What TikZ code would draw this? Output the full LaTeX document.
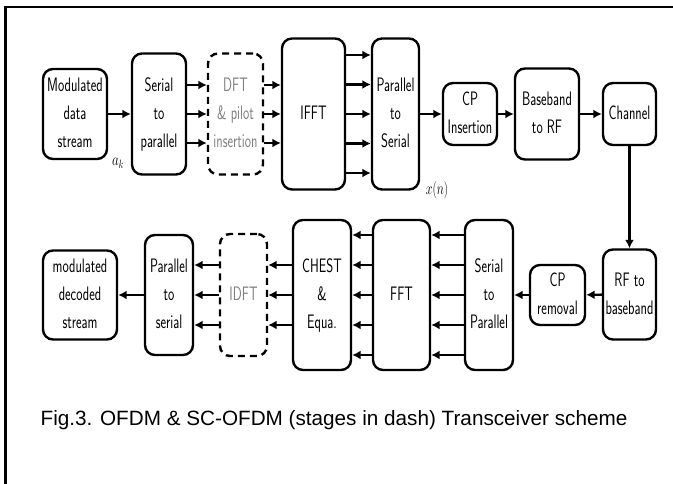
\documentclass[tikz,border=0pt]{standalone}
\usepackage{graphicx}
\usepackage{fontspec}
\newfontfamily\capfont{Liberation Sans}
\usetikzlibrary{arrows.meta}
\newcommand{\bt}[1]{\scalebox{0.68}[1]{\begin{tabular}{@{}c@{}}#1\end{tabular}}}
\tikzset{
  blk/.style={draw, line width=2.4pt, rounded corners=10pt, inner sep=0pt,
    font=\sffamily\fontsize{19.5}{28}\selectfont},
  dblk/.style={blk, dashed, dash pattern=on 7pt off 5pt, text=black!50},
  arr/.style={line width=2.4pt, -{Latex[length=8.5pt,width=9pt]}},
  lbl/.style={inner sep=0pt, font=\fontsize{17}{20}\selectfont},
}
\begin{document}
\begin{tikzpicture}[x=1pt,y=-1pt]
\useasboundingbox (0,0) rectangle (673,484);
\draw[line width=2.4pt] (673,7) -- (5.5,7) -- (5.5,484);
% top row
\node[blk, minimum width=64pt, minimum height=90pt] (mod) at (75,114) {\bt{Modulated\\data\\stream}};
\node[blk, minimum width=54pt, minimum height=121pt] (s2p) at (159,114) {\bt{Serial\\to\\parallel}};
\node[dblk, minimum width=55pt, minimum height=121pt] (dft) at (235.5,114) {\bt{DFT\\\& pilot\\insertion}};
\node[blk, minimum width=63pt, minimum height=151pt] (ifft) at (313.5,114) {\bt{IFFT}};
\node[blk, minimum width=47pt, minimum height=151pt] (p2s) at (395.5,114) {\bt{Parallel\\to\\Serial}};
\node[blk, minimum width=54pt, minimum height=62pt] (cpi) at (470,114) {\bt{CP\\Insertion}};
\node[blk, minimum width=64pt, minimum height=91pt] (bb) at (547,114) {\bt{Baseband\\to RF}};
\node[blk, minimum width=53pt, minimum height=62pt] (ch) at (629.5,114) {\bt{Channel}};
% bottom row
\node[blk, minimum width=53pt, minimum height=90pt] (rf) at (629.5,294.5) {\bt{RF to\\baseband}};
\node[blk, minimum width=55pt, minimum height=60pt] (cpr) at (557.5,295) {\bt{CP\\removal}};
\node[blk, minimum width=48pt, minimum height=150pt] (s2pb) at (489,295) {\bt{Serial\\to\\Parallel}};
\node[blk, minimum width=57pt, minimum height=150pt] (fft) at (401.5,295) {\bt{FFT}};
\node[blk, minimum width=58pt, minimum height=150pt] (chest) at (322,295) {\bt{CHEST\\\&\\Equa.}};
\node[dblk, minimum width=47pt, minimum height=122pt] (idft) at (243.5,295) {\bt{IDFT}};
\node[blk, minimum width=48pt, minimum height=120pt] (p2sb) at (169,295) {\bt{Parallel\\to\\serial}};
\node[blk, minimum width=74pt, minimum height=89pt] (dec) at (80,295) {\bt{modulated\\decoded\\stream}};
% labels
\node[lbl] (ak) at (118,163) {\scalebox{0.75}[1]{$a_k$}};
\node[lbl] (xn) at (437,190) {\scalebox{0.7}[1]{$x(n)$}};
% arrows top
\draw[arr] (mod) -- (s2p);
\foreach \d in {-29,0,29} {
  \draw[arr] ([yshift=\d pt]s2p.east) -- ([yshift=\d pt]dft.west);
  \draw[arr] ([yshift=\d pt]dft.east) -- ([yshift=\d pt]ifft.west);
}
\foreach \d in {-59,-29.5,0,29.5,59} {
  \draw[arr] ([yshift=\d pt]ifft.east) -- ([yshift=\d pt]p2s.west);
}
\draw[arr] (p2s) -- (cpi);
\draw[arr] (cpi) -- (bb);
\draw[arr] (bb) -- (ch);
\draw[arr] (ch) -- (rf);
% arrows bottom
\draw[arr] (rf) -- (cpr);
\draw[arr] (cpr) -- (s2pb);
\foreach \d in {-60,-30,0,30,60} {
  \draw[arr] ([yshift=\d pt]s2pb.west) -- ([yshift=\d pt]fft.east);
  \draw[arr] ([yshift=\d pt]fft.west) -- ([yshift=\d pt]chest.east);
}
\foreach \d in {-30,0,30} {
  \draw[arr] ([yshift=\d pt]chest.west) -- ([yshift=\d pt]idft.east);
  \draw[arr] ([yshift=\d pt]idft.west) -- ([yshift=\d pt]p2sb.east);
}
\draw[arr] (p2sb) -- (dec);
% caption
\node[anchor=base, inner sep=0pt, font=\capfont\fontsize{20.7}{24}\selectfont] (cap) at (334,425) {Fig.3. OFDM \& SC-OFDM (stages in dash) Transceiver scheme};
\end{tikzpicture}
\end{document}
